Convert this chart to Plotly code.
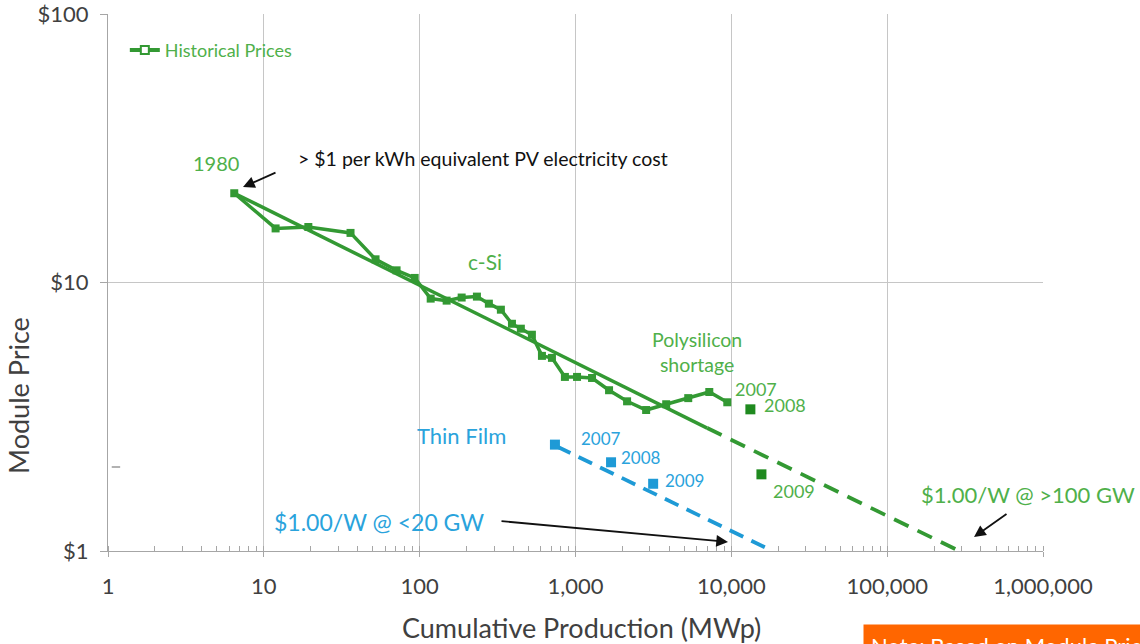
import math
import plotly.graph_objects as go

# ---------------- data ----------------
hist_mwp = [6.46, 11.9, 19.3, 36.0, 52.1, 71.1, 92.9, 117.7, 149, 186, 233, 278, 332, 391, 446,
            525, 609, 706, 855, 1023, 1277, 1642, 2143, 2840, 3820, 5290, 7220, 9420]
hist_price = [21.5, 15.9, 16.1, 15.3, 12.2, 11.1, 10.4, 8.71, 8.56, 8.79, 8.86, 8.34, 7.92, 7.02, 6.73,
              6.39, 5.33, 5.24, 4.45, 4.45, 4.41, 3.97, 3.61, 3.35, 3.52, 3.71, 3.91, 3.58]

csi_recent_mwp = [13250, 15600]
csi_recent_price = [3.37, 1.93]

csi_trend_mwp = [6.46, 7000]
csi_trend_price = [21.5, 2.87]
csi_proj_mwp = [7000, 290000]
csi_proj_price = [2.87, 1.0]

tf_mwp = [738, 1691, 3150]
tf_price = [2.49, 2.14, 1.78]
tf_proj_mwp = [760, 18400]
tf_proj_price = [2.45, 1.0]

x_tickvals = [1, 10, 100, 1000, 10000, 100000, 1000000]
x_ticktext = ["1", "10", "100", "1,000", "10,000", "100,000", "1,000,000"]
y_tickvals = [1, 10, 100]
y_ticktext = ["$1", "$10", "$100"]

# ---------------- style ----------------
FONT = "Lato"
GREEN = "#339933"
GREEN_DARK = "#1f8a1f"
GREEN_TXT = "#4fb04a"
BLUE = "#1e9ad6"
BLUE_TXT = "#2aa3dc"
GRID = "#c6c6c6"
AXIS = "#a6a6a6"
TXT = "#404040"

# plot area in screen pixels
PX0, PW, PY0, PH = 108, 935, 14, 537
FIG_W, FIG_H = 1140, 644

fig = go.Figure()

fig.add_trace(go.Scatter(x=csi_trend_mwp, y=csi_trend_price, mode="lines",
                         line=dict(color=GREEN, width=3.5), showlegend=False, hoverinfo="skip"))
fig.add_trace(go.Scatter(x=csi_proj_mwp, y=csi_proj_price, mode="lines",
                         line=dict(color=GREEN, width=3.8, dash="16px,10px"), showlegend=False,
                         hoverinfo="skip"))
fig.add_trace(go.Scatter(x=tf_proj_mwp, y=tf_proj_price, mode="lines",
                         line=dict(color=BLUE, width=3.8, dash="15px,9px"), showlegend=False,
                         hoverinfo="skip"))
fig.add_trace(go.Scatter(x=hist_mwp, y=hist_price, mode="lines+markers",
                         line=dict(color=GREEN, width=3.5),
                         marker=dict(symbol="square", size=8, color=GREEN),
                         showlegend=False))
fig.add_trace(go.Scatter(x=csi_recent_mwp, y=csi_recent_price, mode="markers",
                         marker=dict(symbol="square", size=10, color=GREEN_DARK),
                         showlegend=False))
fig.add_trace(go.Scatter(x=tf_mwp, y=tf_price, mode="markers",
                         marker=dict(symbol="square", size=10, color=BLUE),
                         showlegend=False))
# legend entry
fig.add_trace(go.Scatter(x=[None], y=[None], mode="lines+markers", name="Historical Prices",
                         line=dict(color=GREEN, width=4),
                         marker=dict(symbol="square", size=8, color="white",
                                     line=dict(color=GREEN, width=2))))

ann = []


def px2lx(p):
    return (p - PX0) / (PW / 6)


def py2ly(p):
    return (PY0 + PH - p) / (PH / 2)


def txt(text, px, py, color, size, xanchor="center"):
    ann.append(dict(text=text, x=px2lx(px), y=py2ly(py), xref="x", yref="y", showarrow=False,
                    xanchor=xanchor, yanchor="middle",
                    font=dict(family=FONT, size=size, color=color)))


txt("1980", 216, 163, GREEN_TXT, 20)
txt("> $1 per kWh equivalent PV electricity cost", 296, 158, "#111111", 19.5, "left")
txt("c-Si", 485, 261, GREEN_TXT, 21)
txt("Polysilicon<br>shortage", 697, 352, GREEN_TXT, 19.5)
txt("2007", 733, 389, GREEN_TXT, 18, "left")
txt("2008", 762, 405, GREEN_TXT, 18, "left")
txt("2009", 771, 491, GREEN_TXT, 18, "left")
txt("Thin Film", 461, 435, BLUE_TXT, 22)
txt("2007", 579, 438, BLUE_TXT, 17, "left")
txt("2008", 619, 457, BLUE_TXT, 17, "left")
txt("2009", 663, 480, BLUE_TXT, 17, "left")
txt("$1.00/W @ <20 GW", 272, 522, BLUE_TXT, 23, "left")
txt("$1.00/W @ >100 GW", 919, 494, GREEN_TXT, 22, "left")


def arrow(tx, ty, hx, hy):
    ann.append(dict(text="", x=px2lx(hx), y=py2ly(hy), ax=px2lx(tx), ay=py2ly(ty),
                    xref="x", yref="y", axref="x", ayref="y", showarrow=True,
                    arrowhead=2, arrowsize=1.3, arrowwidth=1.8, arrowcolor="#111111"))


arrow(277, 172, 243, 187)
arrow(500, 521, 728, 542)
arrow(1008, 513, 974, 537)


def paper_x(p):
    return (p - PX0) / PW


def paper_y(p):
    return (PY0 + PH - p) / PH


# axis titles
ann.append(dict(text="Module Price", xref="paper", yref="paper", x=paper_x(18), y=paper_y(396),
                showarrow=False, textangle=-90, xanchor="center", yanchor="middle",
                font=dict(family=FONT, size=27, color=TXT)))
ann.append(dict(text="Cumulative Production (MWp)", xref="paper", yref="paper",
                x=paper_x(581), y=paper_y(627),
                showarrow=False, xanchor="center", yanchor="middle",
                font=dict(family=FONT, size=27, color=TXT)))
# orange note box (cut off at bottom, as in the reference)
ann.append(dict(text="Note: Based on Module Prices", xref="paper", yref="paper",
                x=paper_x(863), y=paper_y(624),
                showarrow=False, xanchor="left", yanchor="top", align="left",
                bgcolor="#ff6600", borderpad=7, width=290,
                font=dict(family=FONT, size=22, color="white")))

fig.update_layout(
    width=FIG_W, height=FIG_H,
    margin=dict(l=PX0, r=FIG_W - PX0 - PW, t=PY0, b=FIG_H - PY0 - PH, autoexpand=False),
    paper_bgcolor="white", plot_bgcolor="white",
    font=dict(family=FONT, color=TXT),
    annotations=ann,
    legend=dict(x=0.018, y=0.967, xanchor="left", yanchor="top", bgcolor="rgba(0,0,0,0)",
                font=dict(family=FONT, size=18, color=GREEN_TXT), itemwidth=30),
    shapes=[dict(type="line", xref="paper", yref="paper", x0=0.004, x1=0.013,
                 y0=paper_y(467), y1=paper_y(467), line=dict(color="#999999", width=1.5))],
)

fig.update_xaxes(type="log", range=[0, 6], tickvals=x_tickvals, ticktext=x_ticktext,
                 showgrid=True, gridcolor=GRID, gridwidth=1.2, automargin=False,
                 showline=True, linecolor=AXIS, linewidth=1.2,
                 ticks="outside", ticklen=5, tickcolor=AXIS,
                 tickfont=dict(family=FONT, size=22, color=TXT), ticklabelstandoff=10,
                 ticklabeloverflow="allow",
                 minor=dict(ticks="inside", ticklen=5, tickcolor=AXIS, dtick="D1", showgrid=False),
                 zeroline=False)
fig.update_yaxes(type="log", range=[0, 2], tickvals=y_tickvals, ticktext=y_ticktext,
                 showgrid=True, gridcolor=GRID, gridwidth=1.2, automargin=False,
                 showline=True, linecolor=AXIS, linewidth=1.2,
                 ticks="outside", ticklen=7, tickcolor=AXIS,
                 tickfont=dict(family=FONT, size=22, color=TXT), ticklabelstandoff=7,
                 ticklabeloverflow="allow",
                 zeroline=False)

fig.write_html("out.html",
               config={"displayModeBar": False},
               post_script="document.body.style.margin='0px';document.body.style.overflow='hidden';")
